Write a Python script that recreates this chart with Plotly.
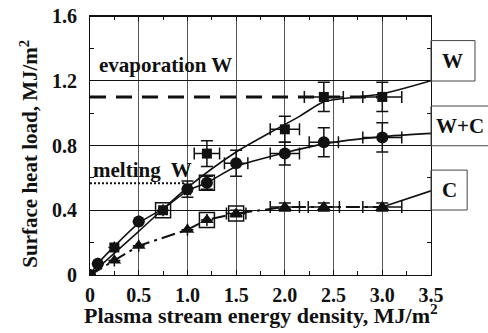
import plotly.graph_objects as go

# ---- data ----
W_x = [0, 0.25, 0.75, 1.2, 2.0, 2.4, 3.0]
W_y = [0, 0.17, 0.40, 0.75, 0.90, 1.10, 1.10]
W_ex = [0, 0, 0, 0.13, 0.15, 0.2, 0.2]
W_ey = [0, 0, 0, 0.08, 0.08, 0.09, 0.09]

WC_x = [0, 0.08, 0.5, 1.0, 1.2, 1.5, 2.0, 2.4, 3.0]
WC_y = [0, 0.07, 0.33, 0.53, 0.57, 0.69, 0.75, 0.82, 0.85]
WC_ex = [0, 0, 0, 0.03, 0, 0.12, 0.15, 0.15, 0.2]
WC_ey = [0, 0, 0, 0.05, 0.04, 0.08, 0.07, 0.09, 0.09]

C_x = [0, 0.25, 0.5, 1.0, 1.2, 1.5, 2.0, 2.4, 3.0]
C_y = [0, 0.09, 0.18, 0.28, 0.34, 0.38, 0.42, 0.42, 0.42]
C_ex = [0, 0, 0, 0, 0, 0.1, 0.15, 0.16, 0.2]
C_ey = [0, 0, 0, 0, 0, 0.02, 0.025, 0.025, 0.025]

box_x = [0.75, 1.2, 1.2, 1.5]
box_y = [0.40, 0.57, 0.34, 0.38]

W_fit_x = [0, 0.5, 1.0, 1.5, 1.85, 2.15, 2.4, 2.6, 3.0, 3.5]
W_fit_y = [0, 0.27, 0.54, 0.76, 0.88, 0.98, 1.07, 1.09, 1.12, 1.2]

WC_fit_x = [0, 0.08, 0.5, 0.75, 1.0, 1.2, 1.5, 2.0, 2.4, 3.0, 3.5]
WC_fit_y = [0, 0.07, 0.32, 0.41, 0.52, 0.57, 0.67, 0.755, 0.81, 0.855, 0.875]

C_fit_x = [0, 0.25, 0.5, 1.0, 1.2, 1.5, 2.0, 2.4, 3.0]
C_fit_y = [0, 0.09, 0.18, 0.28, 0.34, 0.38, 0.42, 0.42, 0.42]
C_tail_x = [3.0, 3.5]
C_tail_y = [0.42, 0.52]

evap_x = [0, 2.95]
evap_y = [1.1, 1.1]
melt_x = [0, 0.98]
melt_y = [0.567, 0.567]

x_ticks = [0, 0.5, 1.0, 1.5, 2.0, 2.5, 3.0, 3.5]
x_ticktext = ["0", "0.5", "1.0", "1.5", "2.0", "2.5", "3.0", "3.5"]
y_ticks = [0, 0.4, 0.8, 1.2, 1.6]
y_ticktext = ["0", "0.4", "0.8", "1.2", "1.6"]

FONT = "Liberation Serif"
BLK = "#111"

fig = go.Figure()

# reference lines
fig.add_trace(go.Scatter(x=evap_x, y=evap_y, mode="lines",
                         line=dict(color=BLK, width=3, dash="16px,10px")))
fig.add_trace(go.Scatter(x=melt_x, y=melt_y, mode="lines",
                         line=dict(color=BLK, width=2, dash="2px,2px")))

# fit curves
fig.add_trace(go.Scatter(x=W_fit_x, y=W_fit_y, mode="lines", line_shape="spline",
                         line=dict(color=BLK, width=1.6, smoothing=0.8)))
fig.add_trace(go.Scatter(x=WC_fit_x, y=WC_fit_y, mode="lines", line_shape="spline",
                         line=dict(color=BLK, width=1.6, smoothing=0.6)))
fig.add_trace(go.Scatter(x=C_fit_x, y=C_fit_y, mode="lines",
                         line=dict(color=BLK, width=2, dash="14px,5px,3px,5px")))
fig.add_trace(go.Scatter(x=C_tail_x, y=C_tail_y, mode="lines",
                         line=dict(color=BLK, width=1.6)))

# open boxes
fig.add_trace(go.Scatter(x=box_x, y=box_y, mode="markers",
                         marker=dict(symbol="square-open", size=15, color=BLK,
                                     line=dict(width=1.5, color=BLK))))

errkw = dict(color=BLK, thickness=1.5, width=6)
fig.add_trace(go.Scatter(x=W_x, y=W_y, mode="markers",
                         marker=dict(symbol="square", size=10, color=BLK),
                         error_x=dict(type="data", array=W_ex, **errkw),
                         error_y=dict(type="data", array=W_ey, **errkw)))
fig.add_trace(go.Scatter(x=WC_x, y=WC_y, mode="markers",
                         marker=dict(symbol="circle", size=12, color=BLK),
                         error_x=dict(type="data", array=WC_ex, **errkw),
                         error_y=dict(type="data", array=WC_ey, **errkw)))
fig.add_trace(go.Scatter(x=C_x, y=C_y, mode="markers",
                         marker=dict(symbol="triangle-up", size=12, color=BLK),
                         error_x=dict(type="data", array=C_ex, **errkw),
                         error_y=dict(type="data", array=C_ey, **errkw)))

tickfont = dict(family=FONT, size=20, color=BLK, weight="bold")
axis_common = dict(showline=True, linecolor=BLK, linewidth=1, mirror="allticks",
                   ticks="inside", ticklen=5, tickcolor=BLK, zeroline=False,
                   tickfont=tickfont, automargin=False, ticklabeloverflow="allow",
                   showgrid=True, gridwidth=1)

fig.update_xaxes(range=[0, 3.5], tickvals=x_ticks, ticktext=x_ticktext,
                 gridcolor="#555", ticklabelstandoff=2,
                 minor=dict(dtick=0.25, tick0=0, ticks="inside", ticklen=4, tickcolor=BLK, showgrid=False),
                 **axis_common)
fig.update_yaxes(range=[0, 1.6], tickvals=y_ticks, ticktext=y_ticktext,
                 gridcolor=BLK, ticklabelstandoff=8,
                 minor=dict(dtick=0.2, tick0=0, ticks="inside", ticklen=4, tickcolor=BLK, showgrid=False),
                 **axis_common)

tf = dict(family=FONT, size=21, color=BLK, weight="bold")
ann = []
ann.append(dict(x=0.07, y=1.30, xref="x", yref="y", text="evaporation W", showarrow=False,
                xanchor="left", yanchor="middle", font=tf))
ann.append(dict(x=0.01, y=0.65, xref="x", yref="y", text="melting\u00a0 W", showarrow=False,
                xanchor="left", yanchor="middle", font=tf))
# series labels in boxes
ann.append(dict(x=1.064, y=0.828, xref="paper", yref="paper", text="W", showarrow=False,
                xanchor="center", yanchor="middle", font=tf))
ann.append(dict(x=1.0, y=0.577, xref="paper", yref="paper", text="W+C", showarrow=False,
                xanchor="left", yanchor="middle", xshift=3, font=tf))
ann.append(dict(x=1.053, y=0.33, xref="paper", yref="paper", text="C", showarrow=False,
                xanchor="center", yanchor="middle", font=tf))
# axis titles
ann.append(dict(x=-0.18, y=0.467, xref="paper", yref="paper",
                text="Surface heat load, MJ/m<sup>2</sup>", showarrow=False, textangle=-90,
                xanchor="center", yanchor="middle", font=dict(family=FONT, size=21, color=BLK, weight="bold")))
ann.append(dict(x=0.5, y=-0.15, xref="paper", yref="paper",
                text="Plasma stream energy density, MJ/m<sup>2</sup>", showarrow=False,
                xanchor="center", yanchor="middle", font=dict(family=FONT, size=22, color=BLK, weight="bold")))

shapes = [dict(type="line", xref="paper", yref="paper", x0=0, x1=1, y0=0.998, y1=0.998,
               line=dict(color=BLK, width=1.2), layer="above")]
for x0, x1, y0, y1 in [(1.0, 1.129, 0.749, 0.905), (1.0, 1.18, 0.499, 0.6525), (1.0, 1.106, 0.251, 0.405)]:
    shapes.append(dict(type="rect", xref="paper", yref="paper", x0=x0, x1=x1, y0=y0, y1=y1,
                       line=dict(color="#444", width=1), fillcolor="rgba(0,0,0,0)"))

fig.update_layout(width=488, height=333, margin=dict(l=90, r=57, t=16, b=58, autoexpand=False),
                  paper_bgcolor="white", plot_bgcolor="white", showlegend=False,
                  annotations=ann, shapes=shapes)

# remove the default 8px page margin so the figure sits at the window origin
fig.write_html("out.html", config={"displayModeBar": False},
               post_script="document.body.style.margin='0';document.body.style.overflow='hidden';")
